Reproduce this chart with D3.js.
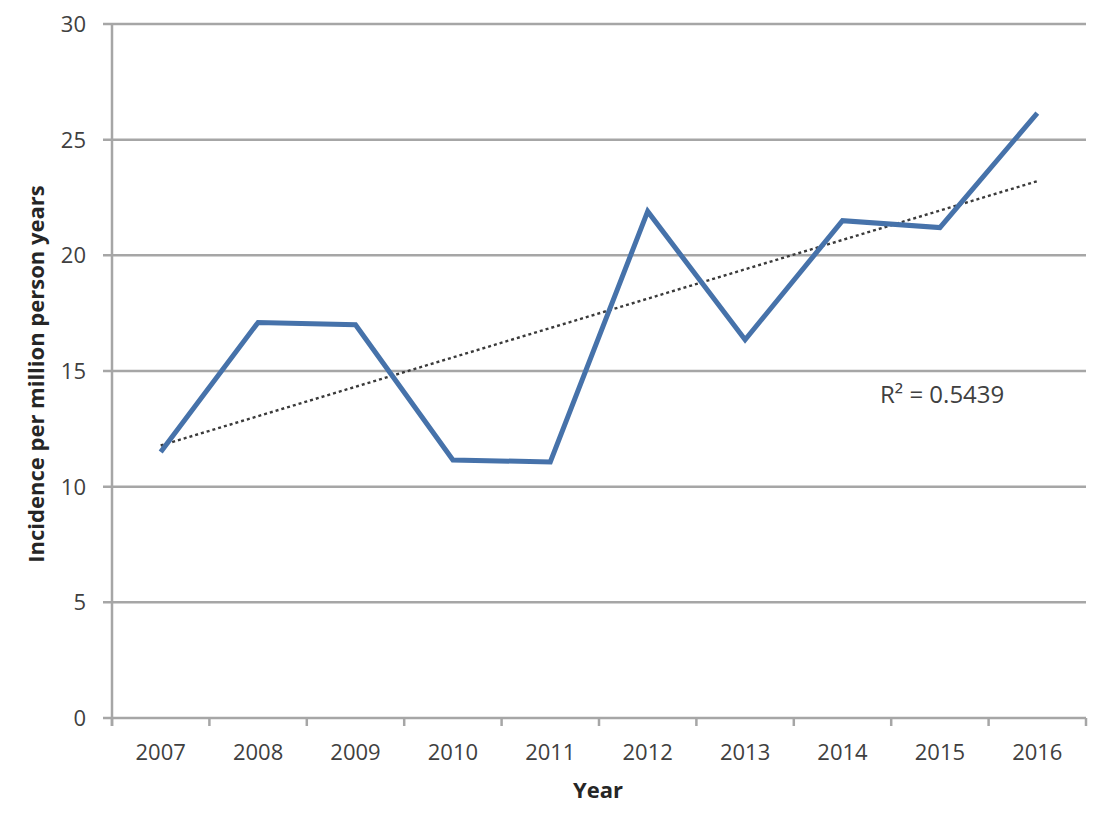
<!DOCTYPE html>
<html>
<head>
<meta charset="utf-8">
<script src="https://cdn.jsdelivr.net/npm/d3@7"></script>
<style>
  body { margin: 0; background: #fff; }
  svg text { font-family: "Open Sans", "Noto Sans", sans-serif; }
</style>
</head>
<body>
<div id="chart"></div>
<script>
const years = ["2007", "2008", "2009", "2010", "2011", "2012", "2013", "2014", "2015", "2016"];
const incidence = [11.5, 17.1, 17.0, 11.15, 11.07, 21.9, 16.35, 21.5, 21.2, 26.15];
const yTicks = [0, 5, 10, 15, 20, 25, 30];
const r2Label = "R² = 0.5439";

window.onload = () => {
  drawChart();
};

function drawChart() {
  const W = 1102, H = 828;
  const left = 112, right = 1086, top = 24, bottom = 718;

  const svg = d3.select("#chart").append("svg")
    .attr("width", W)
    .attr("height", H);

  const x = d3.scaleBand().domain(years).range([left, right]);
  const y = d3.scaleLinear().domain([0, 30]).range([bottom, top]);

  // gridlines
  svg.append("g")
    .selectAll("line")
    .data(yTicks)
    .join("line")
    .attr("x1", left - 9)
    .attr("x2", right)
    .attr("y1", d => y(d))
    .attr("y2", d => y(d))
    .attr("stroke", "#a6a6a6")
    .attr("stroke-width", 2.5);

  // y axis line
  svg.append("line")
    .attr("x1", left).attr("x2", left)
    .attr("y1", top).attr("y2", bottom + 8)
    .attr("stroke", "#a6a6a6")
    .attr("stroke-width", 2.5);

  // y tick labels
  svg.append("g")
    .selectAll("text")
    .data(yTicks)
    .join("text")
    .attr("x", 86)
    .attr("y", d => y(d) + 8)
    .attr("text-anchor", "end")
    .attr("font-size", 22)
    .attr("fill", "#404040")
    .text(d => d);

  // x tick marks between categories
  const edges = years.map(d => x(d)).concat([right]);
  svg.append("g")
    .selectAll("line")
    .data(edges)
    .join("line")
    .attr("x1", d => d).attr("x2", d => d)
    .attr("y1", bottom).attr("y2", bottom + 8)
    .attr("stroke", "#a6a6a6")
    .attr("stroke-width", 2.5);

  // x tick labels
  svg.append("g")
    .selectAll("text")
    .data(years)
    .join("text")
    .attr("x", d => x(d) + x.bandwidth() / 2)
    .attr("y", 760)
    .attr("text-anchor", "middle")
    .attr("font-size", 22)
    .attr("fill", "#404040")
    .text(d => d);

  // trendline (least squares on the series)
  const xs = years.map((d, i) => i);
  const mx = d3.mean(xs), my = d3.mean(incidence);
  const slope = d3.sum(xs, (v, i) => (v - mx) * (incidence[i] - my)) / d3.sum(xs, v => (v - mx) ** 2);
  const icpt = my - slope * mx;
  const cx = d => x(d) + x.bandwidth() / 2;

  svg.append("line")
    .attr("x1", cx(years[0]))
    .attr("y1", y(icpt))
    .attr("x2", cx(years[years.length - 1]))
    .attr("y2", y(icpt + slope * (years.length - 1)))
    .attr("stroke", "#3a3a3a")
    .attr("stroke-width", 2.4)
    .attr("stroke-dasharray", "3,3");

  // data line
  const line = d3.line()
    .x((d, i) => cx(years[i]))
    .y(d => y(d));

  svg.append("path")
    .datum(incidence)
    .attr("d", line)
    .attr("fill", "none")
    .attr("stroke", "#4672aa")
    .attr("stroke-width", 5)
    .attr("stroke-linejoin", "miter");

  // R² label
  svg.append("text")
    .attr("x", 880)
    .attr("y", 403)
    .attr("font-size", 24)
    .attr("fill", "#404040")
    .text(r2Label);

  // axis titles
  svg.append("text")
    .attr("x", 598)
    .attr("y", 798)
    .attr("text-anchor", "middle")
    .attr("font-size", 22)
    .attr("font-weight", "bold")
    .attr("fill", "#262626")
    .text("Year");

  svg.append("text")
    .attr("transform", "translate(44,374) rotate(-90)")
    .attr("text-anchor", "middle")
    .attr("font-size", 22)
    .attr("font-weight", "bold")
    .attr("fill", "#262626")
    .text("Incidence per million person years");
}
</script>
</body>
</html>
